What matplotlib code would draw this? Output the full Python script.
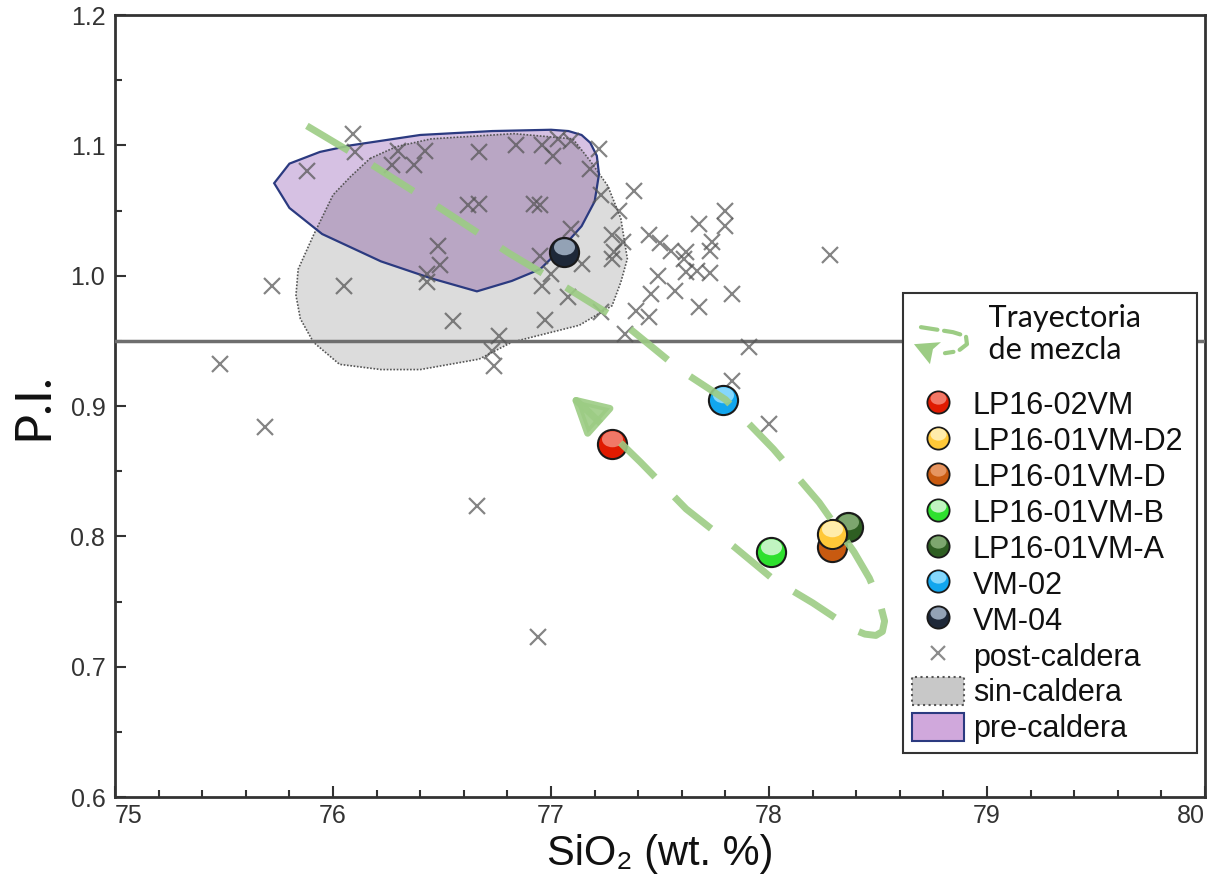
import matplotlib
matplotlib.use('Agg')
import matplotlib.pyplot as plt
from matplotlib.lines import Line2D
from matplotlib.patches import Patch, Polygon
from matplotlib.legend_handler import HandlerBase
from matplotlib.ticker import MultipleLocator, FormatStrFormatter
from matplotlib.path import Path
from matplotlib.transforms import Affine2D
import numpy as np

plt.rcParams['font.family'] = ['Liberation Sans', 'DejaVu Sans']

# --- samples (big glossy balls) ---
sample_names = ['LP16-02VM', 'LP16-01VM-D2', 'LP16-01VM-D', 'LP16-01VM-B',
                'LP16-01VM-A', 'VM-02', 'VM-04']
sample_sio2 = [77.28, 78.29, 78.29, 78.01, 78.36, 77.79, 77.06]
sample_pi = [0.871, 0.802, 0.792, 0.788, 0.807, 0.905, 1.018]
sample_top = ['#f58a7a', '#fff3c0', '#eca070', '#dcf8dc', '#8cb47c', '#9ae0ff', '#a8b8cc']
sample_bot = ['#e01a00', '#ffc838', '#c85a10', '#2ee02e', '#2e5e22', '#12a6ee', '#1e2838']
sample_z = [5.0, 5.3, 5.2, 5.0, 5.1, 5.0, 5.0]

# --- post-caldera crosses ---
post_sio2 = [76.09, 75.88, 76.10, 76.30, 76.27, 76.37, 76.42, 76.67, 76.84, 76.96,
             77.01, 77.03, 77.09, 77.22, 77.18, 77.38, 77.23, 77.31, 76.62, 76.67,
             76.92, 76.95, 76.48, 76.49, 76.43, 76.43, 76.05, 75.72, 76.95, 77.09,
             77.14, 76.96, 77.00, 77.08, 77.23, 76.97, 76.55, 76.76, 76.73, 76.74,
             75.48, 75.69, 76.66, 76.94, 77.28, 77.33, 77.28, 77.29, 77.45, 77.50,
             77.55, 77.62, 77.61, 77.68, 77.80, 77.80, 77.74, 77.73, 77.49, 77.62,
             77.67, 77.73, 77.46, 77.57, 77.83, 77.68, 77.39, 77.45, 77.34, 77.91,
             77.83, 78.00, 78.28]
post_pi = [1.109, 1.080, 1.095, 1.096, 1.085, 1.085, 1.096, 1.095, 1.100, 1.100,
           1.092, 1.105, 1.103, 1.097, 1.082, 1.065, 1.062, 1.050, 1.054, 1.055,
           1.055, 1.054, 1.023, 1.008, 1.001, 0.995, 0.992, 0.992, 1.015, 1.036,
           1.009, 0.992, 1.001, 0.984, 0.972, 0.966, 0.965, 0.954, 0.942, 0.931,
           0.932, 0.884, 0.823, 0.723, 1.031, 1.026, 1.013, 1.018, 1.031, 1.025,
           1.019, 1.018, 1.013, 1.040, 1.050, 1.038, 1.026, 1.019, 1.000, 1.003,
           1.004, 1.002, 0.986, 0.988, 0.986, 0.976, 0.973, 0.968, 0.955, 0.945,
           0.919, 0.886, 1.016]

# --- sin-caldera field outline ---
sin_sio2 = [76.17, 76.29, 76.45, 76.83, 77.10, 77.18, 77.26, 77.32, 77.35, 77.32,
            77.28, 77.13, 76.82, 76.67, 76.40, 76.22, 76.03, 75.91, 75.85, 75.83,
            75.84, 75.91, 76.00, 76.08]
sin_pi = [1.090, 1.099, 1.105, 1.109, 1.105, 1.088, 1.069, 1.044, 1.013, 0.995,
          0.977, 0.962, 0.949, 0.936, 0.928, 0.928, 0.932, 0.949, 0.967, 0.985,
          1.005, 1.031, 1.062, 1.076]

# --- pre-caldera field outline ---
pre_sio2 = [75.73, 75.80, 75.94, 76.08, 76.40, 76.73, 77.00, 77.08, 77.14, 77.18,
            77.21, 77.22, 77.20, 77.14, 77.06, 76.95, 76.82, 76.66, 76.45, 76.22,
            75.95, 75.80]
pre_pi = [1.071, 1.086, 1.095, 1.100, 1.108, 1.111, 1.112, 1.111, 1.108, 1.102,
          1.092, 1.078, 1.057, 1.038, 1.023, 1.005, 0.996, 0.988, 0.998, 1.011,
          1.032, 1.052]

# --- mixing trajectory (dashed green path) ---
traj_sio2 = [75.88, 76.17, 76.49, 76.81, 77.04, 77.32, 77.59, 77.80, 78.02, 78.23,
             78.39, 78.46, 78.51, 78.53, 78.52, 78.49, 78.44, 78.38, 78.20, 78.02,
             77.84, 77.62, 77.41, 77.17]
traj_pi = [1.115, 1.086, 1.052, 1.017, 0.994, 0.965, 0.928, 0.905, 0.867, 0.826,
           0.788, 0.768, 0.748, 0.735, 0.727, 0.724, 0.725, 0.729, 0.749, 0.767,
           0.792, 0.821, 0.857, 0.896]
arrow_tip = (77.09, 0.908)

pi_limit = 0.95

green = '#9ccc84'

# glossy highlight marker: ellipse in upper part of the unit disc
_ell = Path.unit_circle().transformed(Affine2D().scale(0.72, 0.55).translate(0, 0.36))
_anchor = Path([(0, -1.0)], [Path.MOVETO])
highlight = Path.make_compound_path(_anchor, _ell)


class TrajHandler(HandlerBase):
    """Small curled dashed arrow used as legend icon, with extra room around it."""
    extra_below = 26.0
    extra_above = 14.0

    def legend_artist(self, legend, orig_handle, fontsize, handlebox):
        self._cy = handlebox.height / 2 - handlebox.ydescent
        handlebox.ydescent += self.extra_below
        handlebox.height += self.extra_below + self.extra_above
        return super().legend_artist(legend, orig_handle, fontsize, handlebox)

    def create_artists(self, legend, orig_handle, xdescent, ydescent,
                       width, height, fontsize, trans):
        s = 1 / 1.389
        cx = -xdescent + width / 2 - 3.6
        cy = self._cy - 5
        px = [-12, 20, 33, 34, 25, 12]
        py = [15, 10, 6, -2, -9, -11]
        curl = Line2D([cx + a * s for a in px], [cy + b * s for b in py],
                      color=green, lw=3, linestyle=(0, (4, 1.6)),
                      dash_capstyle='round', transform=trans)
        hx = [-19, 8, 0, -3]
        hy = [-2, 0, -7, -22]
        head = Polygon([(cx + a * s, cy + b * s) for a, b in zip(hx, hy)],
                       closed=True, facecolor=green, edgecolor='none',
                       transform=trans)
        return [curl, head]


fig = plt.figure(figsize=(12.07, 8.86), dpi=100)
ax = fig.add_axes([0.0953, 0.1004, 0.9031, 0.8826])

# fields
sin_xy = np.column_stack([sin_sio2, sin_pi])
pre_xy = np.column_stack([pre_sio2, pre_pi])
sin_fill = Polygon(sin_xy, closed=True, facecolor='#dcdcdc', edgecolor='none', zorder=1)
ax.add_patch(sin_fill)
ax.add_patch(Polygon(pre_xy, closed=True, facecolor='#d6c1e3', edgecolor='none', zorder=1.5))
overlap = Polygon(pre_xy, closed=True, facecolor='#b9a6c4', edgecolor='none', zorder=1.6)
ax.add_patch(overlap)
overlap.set_clip_path(sin_fill)
ax.add_patch(Polygon(sin_xy, closed=True, fill=False, edgecolor='#555555',
                     linestyle=(0, (1, 1)), lw=1.2, zorder=2))
ax.add_patch(Polygon(pre_xy, closed=True, fill=False, edgecolor='#2b3a80',
                     lw=1.6, zorder=2.1))

ax.axhline(pi_limit, color='#6e6e6e', lw=2.5, zorder=3)

# post-caldera
ax.plot(post_sio2, post_pi, ls='', marker='x', color='#555555', alpha=0.72,
        markersize=11, mew=1.6, zorder=4)

# samples
for name, x, y, top, bot, z in zip(sample_names, sample_sio2, sample_pi,
                                   sample_top, sample_bot, sample_z):
    ax.plot([x], [y], ls='', marker='o', markersize=21, markerfacecolor=bot,
            markeredgecolor='#1a1a1a', mew=1.5, zorder=z)
    ax.plot([x], [y], ls='', marker=highlight, markersize=21, markerfacecolor=top,
            markeredgecolor='none', alpha=0.85, zorder=z + 0.01)

# mixing trajectory
ax.plot(traj_sio2, traj_pi, color=green, lw=5, alpha=0.9,
        linestyle=(0, (7, 4)), solid_joinstyle='round', zorder=6)
ax.annotate('', xy=arrow_tip, xytext=(traj_sio2[-1], traj_pi[-1]),
            arrowprops=dict(arrowstyle='-|>,head_length=1.1,head_width=0.6',
                            color=green, lw=5, alpha=0.9, mutation_scale=20,
                            shrinkA=0, shrinkB=0),
            zorder=6)

# axes styling
ax.set_xlim(75, 80)
ax.set_ylim(0.6, 1.2)
ax.set_xticks([75, 76, 77, 78, 79, 80])
ax.xaxis.set_minor_locator(MultipleLocator(0.2))
ax.set_yticks([0.6, 0.7, 0.8, 0.9, 1.0, 1.1, 1.2])
ax.yaxis.set_minor_locator(MultipleLocator(0.05))
ax.yaxis.set_major_formatter(FormatStrFormatter('%.1f'))
ax.tick_params(which='both', direction='in', top=False, right=False,
               color='#333333', width=1.5, labelsize=18, labelcolor='#333333')
ax.tick_params(which='major', length=8)
ax.tick_params(axis='x', which='major', pad=5)
ax.tick_params(axis='y', which='major', pad=7)
ax.tick_params(which='minor', length=5)
for sp in ax.spines.values():
    sp.set_linewidth(2)
    sp.set_color('#333333')
xticks = ax.xaxis.get_major_ticks()
xticks[0].label1.set_horizontalalignment('left')
xticks[-1].label1.set_horizontalalignment('right')

ax.set_xlabel('SiO₂ (wt. %)', fontsize=30, color='#111111', labelpad=4)
ax.set_ylabel('P.I.', fontsize=36, color='#111111', family=['Lato', 'DejaVu Sans'],
              labelpad=10)

# legend
traj_handle = Line2D([], [], color=green)
handles = [traj_handle]
for top, bot in zip(sample_top, sample_bot):
    base = Line2D([], [], ls='', marker='o', markersize=16, markerfacecolor=bot,
                  markeredgecolor='#1a1a1a', mew=1.3)
    shine = Line2D([], [], ls='', marker=highlight, markersize=16, markerfacecolor=top,
                   markeredgecolor='none', alpha=0.85)
    handles.append((base, shine))
handles.append(Line2D([], [], ls='', marker='x', color='#666666', alpha=0.75,
                      markersize=10, mew=1.6))
handles.append(Patch(facecolor='#c8c8c8', edgecolor='#555555', linestyle=':', lw=1.5))
handles.append(Patch(facecolor='#d0a8dc', edgecolor='#2b3a80', lw=1.5))
labels = ['  Trayectoria\n  de mezcla'] + sample_names + ['post-caldera', 'sin-caldera',
                                                        'pre-caldera']
leg = ax.legend(handles, labels, handler_map={traj_handle: TrajHandler()},
                loc='upper left', bbox_to_anchor=(0.723, 0.06, 0.2695, 0.5845),
                mode='expand', fontsize=22,
                frameon=True, fancybox=False, edgecolor='#333333', framealpha=1,
                borderpad=0.28, labelspacing=0.14, handlelength=1.72,
                handleheight=1.05, handletextpad=0.28, borderaxespad=0)
leg.get_frame().set_linewidth(1.5)
leg.set_zorder(10)
leg.texts[0].set_fontfamily(['Lato', 'DejaVu Sans'])
leg.texts[0].set_fontsize(22)
leg.texts[0].set_linespacing(1.15)
for t in leg.texts:
    t.set_color('#111111')

fig.savefig('out.png', dpi=100)
